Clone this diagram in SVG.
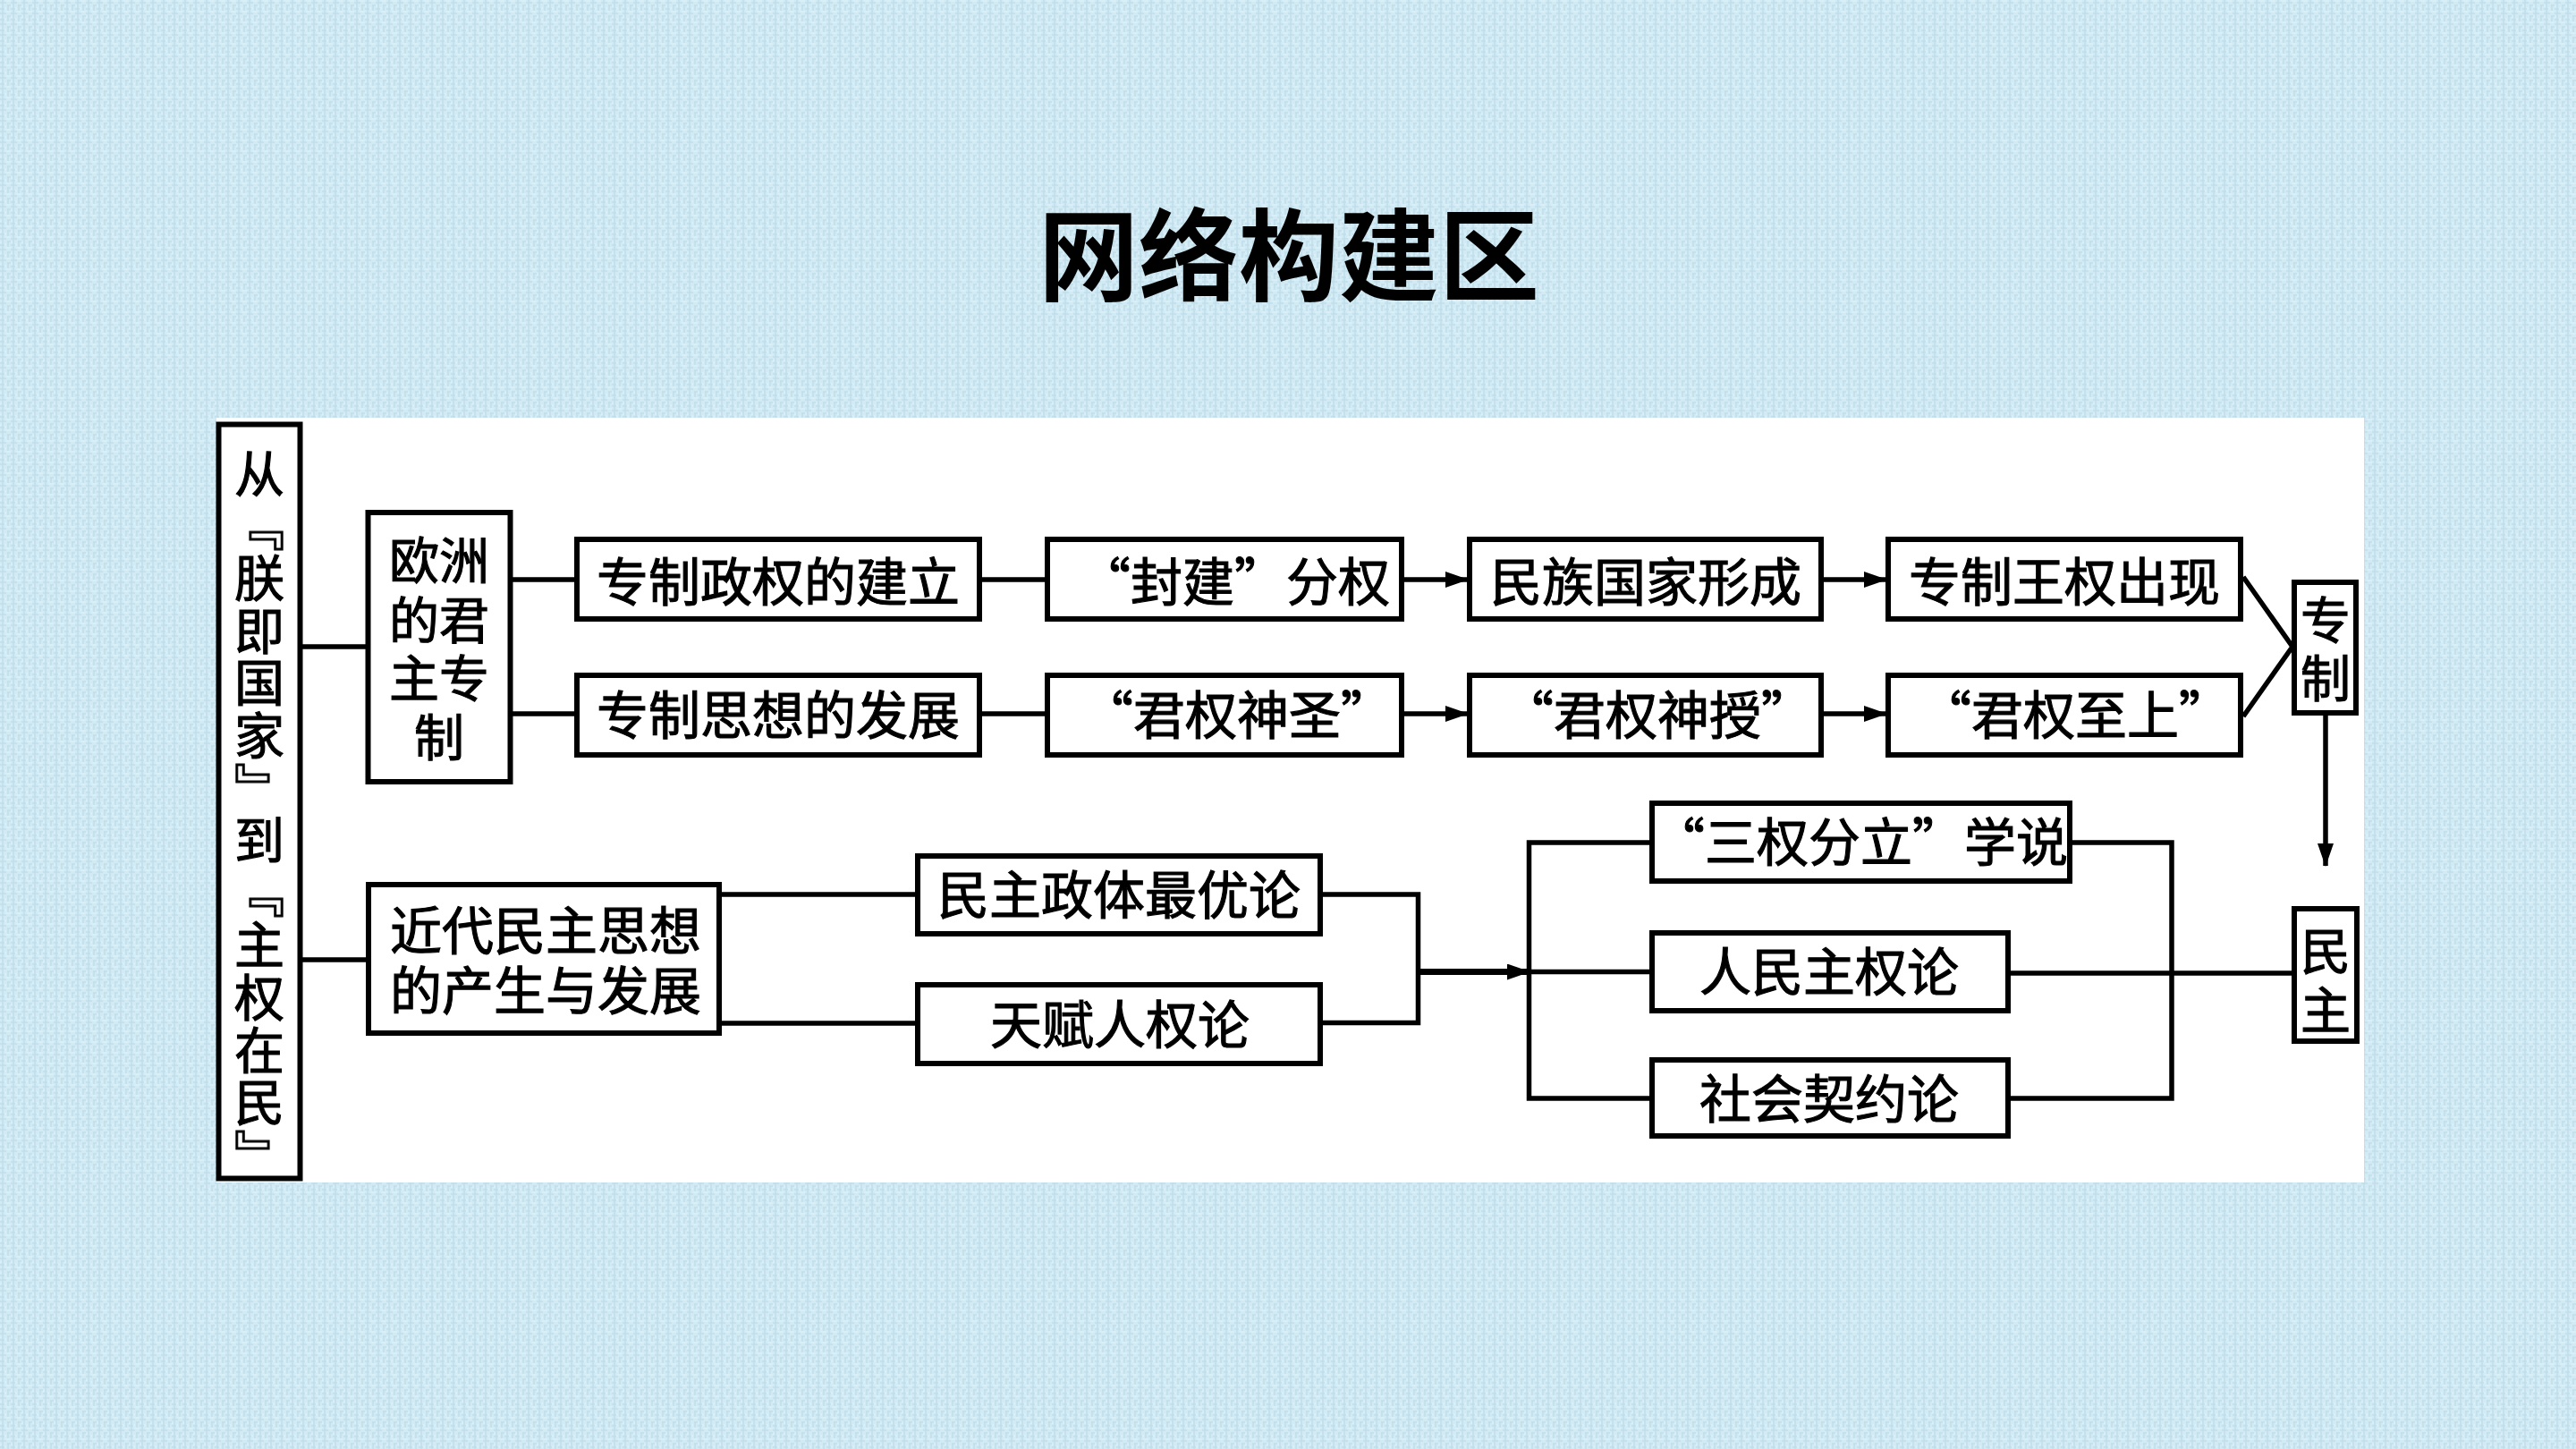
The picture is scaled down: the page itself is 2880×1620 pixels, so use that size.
<svg xmlns="http://www.w3.org/2000/svg" width="2880" height="1620" viewBox="0 0 2880 1620">
<defs>
<style>
.box{fill:#ffffff;stroke:#000;stroke-width:6}
.t{font-family:"Noto Sans CJK SC","Noto Sans CJK JP",sans-serif;font-size:58px;fill:#000;stroke:#000;stroke-width:1.1px;text-anchor:middle}
.s{font-size:56px}
.ln{fill:none;stroke:#000;stroke-width:5.5}
.ar{fill:none;stroke:#000;stroke-width:5.5;marker-end:url(#ah)}
</style>
<marker id="ah" markerUnits="userSpaceOnUse" markerWidth="26" markerHeight="18" refX="25" refY="9" orient="auto">
<path d="M0,0 L26,9 L0,18 z" fill="#000"/>
</marker>
<pattern id="tex" width="12" height="12" patternUnits="userSpaceOnUse">
<rect width="12" height="12" fill="#d1eaf4"/>
<path d="M0,3 H7 M3,0 V12 M8,6 H12 M9,6 V12 M0,10 H5" stroke="#c0dfeb" stroke-width="1.5"/>
<path d="M6,1 H12 M0,7 H2 M6,8 V11" stroke="#e2f4fa" stroke-width="1"/>
</pattern>
</defs>
<rect width="2880" height="1620" fill="url(#tex)"/>
<text x="1441" y="328" style="font-family:'Noto Sans CJK SC',sans-serif;font-size:112px;font-weight:bold;text-anchor:middle;fill:#000">网络构建区</text>
<rect x="242" y="467" width="2401" height="855" fill="#ffffff"/>

<g id="connectors">
<path class="ln" d="M336,723 H411"/>
<path class="ln" d="M336,1073 H412"/>
<path class="ln" d="M573,648 H645"/>
<path class="ln" d="M573,798 H645"/>
<path class="ln" d="M1098,648 H1171"/>
<path class="ln" d="M1098,798 H1171"/>
<path class="ar" d="M1570,648 H1641"/>
<path class="ar" d="M1570,798 H1641"/>
<path class="ar" d="M2039,648 H2109"/>
<path class="ar" d="M2039,798 H2109"/>
<path class="ln" d="M2508,645 L2563,723 L2508,801"/>
<path class="ar" d="M2600,800 V968"/>
<path class="ln" d="M807,1000 H1026"/>
<path class="ln" d="M807,1144 H1026"/>
<path class="ln" d="M1479,1000 H1585.5 V1143.5 H1479"/>
<path class="ar" d="M1585.5,1086.5 H1710" style="stroke-width:7"/>
<path class="ln" d="M1845,942 H1709.5 V1228 H1845"/>
<path class="ln" d="M1709.5,1086.5 H1845"/>
<path class="ln" d="M2317,942 H2428 V1228 H2248"/>
<path class="ln" d="M2248,1088 H2563"/>
</g>

<g id="n-root">
<rect class="box" x="244.5" y="474.5" width="91" height="843"/>
<text class="t s" x="290" y="911" style="writing-mode:vertical-rl;letter-spacing:2.6px">从﹃朕即国家﹄到﹃主权在民﹄</text>
</g>

<g id="n-ouzhou">
<rect class="box" x="411.5" y="573" width="159" height="301"/>
<text class="t s" x="491" y="647">欧洲</text>
<text class="t s" x="491" y="714">的君</text>
<text class="t s" x="491" y="779">主专</text>
<text class="t s" x="491" y="845">制</text>
</g>

<g id="n-zzzq">
<rect class="box" x="645" y="603" width="450" height="89"/>
<text class="t" x="870" y="672">专制政权的建立</text>
</g>
<g id="n-zzsx">
<rect class="box" x="645" y="755" width="450" height="89"/>
<text class="t" x="870" y="821">专制思想的发展</text>
</g>
<g id="n-fenjian">
<rect class="box" x="1171" y="603" width="396" height="89"/>
<text class="t" x="1380" y="672">“封建”分权</text>
</g>
<g id="n-shensheng">
<rect class="box" x="1171" y="755" width="396" height="89"/>
<text class="t" x="1383" y="821">“君权神圣”</text>
</g>
<g id="n-minzu">
<rect class="box" x="1643" y="603" width="393" height="89"/>
<text class="t" x="1840" y="672">民族国家形成</text>
</g>
<g id="n-shenshou">
<rect class="box" x="1643" y="755" width="393" height="89"/>
<text class="t" x="1853" y="821">“君权神授”</text>
</g>
<g id="n-wangquan">
<rect class="box" x="2111" y="603" width="394" height="89"/>
<text class="t" x="2308" y="672">专制王权出现</text>
</g>
<g id="n-zhishang">
<rect class="box" x="2111" y="755" width="394" height="89"/>
<text class="t" x="2320" y="821">“君权至上”</text>
</g>
<g id="n-zhuanzhi">
<rect class="box" x="2565" y="651" width="69" height="146"/>
<text class="t s" x="2600" y="714">专</text>
<text class="t s" x="2600" y="779">制</text>
</g>
<g id="n-minzhu">
<rect class="box" x="2565" y="1016" width="70" height="148"/>
<text class="t s" x="2600" y="1084">民</text>
<text class="t s" x="2600" y="1150">主</text>
</g>

<g id="n-jindai">
<rect class="box" x="412" y="989" width="392" height="166"/>
<text class="t" x="610" y="1062">近代民主思想</text>
<text class="t" x="610" y="1129">的产生与发展</text>
</g>
<g id="n-zuiyou">
<rect class="box" x="1026" y="957" width="450" height="87"/>
<text class="t" x="1251" y="1022">民主政体最优论</text>
</g>
<g id="n-tianfu">
<rect class="box" x="1026" y="1101" width="450" height="88"/>
<text class="t" x="1252" y="1167">天赋人权论</text>
</g>
<g id="n-sanquan">
<rect class="box" x="1847" y="898" width="467" height="87"/>
<text class="t" x="2080" y="963">“三权分立”学说</text>
</g>
<g id="n-renmin">
<rect class="box" x="1847" y="1043" width="398" height="87"/>
<text class="t" x="2045" y="1108">人民主权论</text>
</g>
<g id="n-shehui">
<rect class="box" x="1847" y="1185" width="398" height="85"/>
<text class="t" x="2045" y="1250">社会契约论</text>
</g>
</svg>
